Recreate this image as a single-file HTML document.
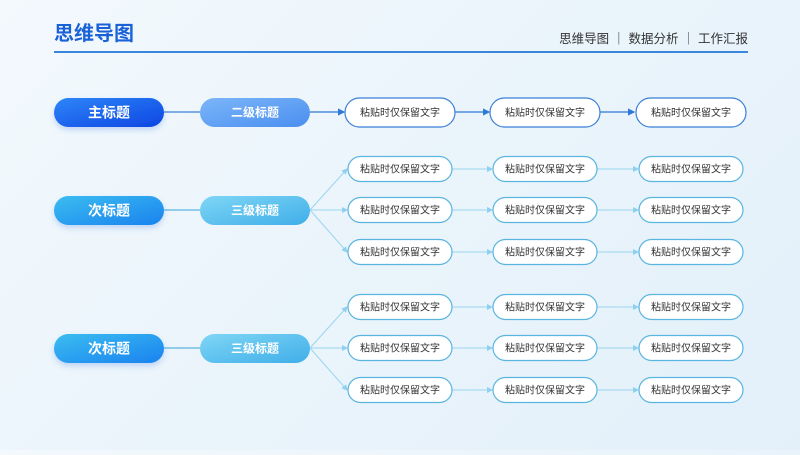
<!DOCTYPE html>
<html><head><meta charset="utf-8"><style>
html,body{margin:0;padding:0;}
body{width:800px;height:450px;overflow:hidden;background:linear-gradient(135deg,#f3f9fd 0%,#eaf4fb 50%,#e3f0fa 100%);font-family:"Liberation Sans","Noto Sans CJK SC",sans-serif;}
svg text{font-family:"Liberation Sans","Noto Sans CJK SC",sans-serif;}
</style></head><body>
<svg width="800" height="450" viewBox="0 0 800 450" xmlns="http://www.w3.org/2000/svg">
<defs>
<linearGradient id="gMain" x1="0" y1="0" x2="1" y2="1"><stop offset="0" stop-color="#2f86f8"/><stop offset="1" stop-color="#0c45e2"/></linearGradient>
<linearGradient id="gL2" x1="0" y1="0" x2="1" y2="1"><stop offset="0" stop-color="#7cb6f9"/><stop offset="1" stop-color="#4a8ef0"/></linearGradient>
<linearGradient id="gSub" x1="0" y1="0" x2="1" y2="1"><stop offset="0" stop-color="#3bbdf0"/><stop offset="1" stop-color="#1a82ef"/></linearGradient>
<linearGradient id="gL3" x1="0" y1="0" x2="1" y2="1"><stop offset="0" stop-color="#7fd6f5"/><stop offset="1" stop-color="#40aee9"/></linearGradient>
<marker id="a1" markerWidth="6" markerHeight="6" refX="5" refY="3" orient="auto"><path d="M0,0 L6,3 L0,6 z" fill="#2f78d8"/></marker>
<marker id="a2" markerWidth="6" markerHeight="6" refX="5" refY="3" orient="auto"><path d="M0,0 L6,3 L0,6 z" fill="#8fd0ee"/></marker>
<filter id="sh" x="-20%" y="-30%" width="140%" height="180%"><feDropShadow dx="0" dy="3" stdDeviation="3" flood-color="#2a6fe0" flood-opacity="0.25"/></filter>
</defs>
<text x="54" y="40" font-size="20" font-weight="bold" fill="#1a62d8">思维导图</text>
<text x="748" y="43" font-size="12.5" fill="#333" text-anchor="end">思维导图 ｜ 数据分析 ｜ 工作汇报</text>
<rect x="54" y="51" width="694" height="2" fill="#3a86dc"/>

<line x1="164" y1="112" x2="200" y2="112" stroke="#3a7fd8" stroke-width="1.2"/>
<line x1="310" y1="112" x2="344" y2="112" stroke="#2f78d8" stroke-width="1.2" marker-end="url(#a1)"/>
<line x1="455" y1="112" x2="489" y2="112" stroke="#2f78d8" stroke-width="1.2" marker-end="url(#a1)"/>
<line x1="600" y1="112" x2="634" y2="112" stroke="#2f78d8" stroke-width="1.2" marker-end="url(#a1)"/>
<rect x="54" y="98" width="110" height="29" rx="14.5" fill="url(#gMain)" filter="url(#sh)"/>
<text x="109" y="117.5" font-size="14" font-weight="bold" fill="#fff" text-anchor="middle">主标题</text>
<rect x="200" y="98" width="110" height="29" rx="14.5" fill="url(#gL2)"/>
<text x="255" y="116.5" font-size="12" font-weight="bold" fill="#fff" text-anchor="middle">二级标题</text>
<g fill="#fff" stroke="#3a7fd8" stroke-width="1.2">
<rect x="345" y="98" width="110" height="29" rx="14.5"/>
<rect x="490" y="98" width="110" height="29" rx="14.5"/>
<rect x="636" y="98" width="110" height="29" rx="14.5"/>
</g>
<g font-size="10" fill="#333" text-anchor="middle">
<text x="400" y="116">粘贴时仅保留文字</text>
<text x="545" y="116">粘贴时仅保留文字</text>
<text x="691" y="116">粘贴时仅保留文字</text>
</g>

<g id="r2">
<line x1="164" y1="210" x2="200" y2="210" stroke="#5ab5e0" stroke-width="1.2"/>
<g stroke="#9ad6f0" stroke-width="1" fill="none">
<line x1="310" y1="210" x2="347" y2="169" marker-end="url(#a2)"/>
<line x1="310" y1="210" x2="347" y2="210" marker-end="url(#a2)"/>
<line x1="310" y1="210" x2="347" y2="252" marker-end="url(#a2)"/>
<line x1="452" y1="169" x2="492" y2="169" marker-end="url(#a2)"/>
<line x1="452" y1="210" x2="492" y2="210" marker-end="url(#a2)"/>
<line x1="452" y1="252" x2="492" y2="252" marker-end="url(#a2)"/>
<line x1="597" y1="169" x2="638" y2="169" marker-end="url(#a2)"/>
<line x1="597" y1="210" x2="638" y2="210" marker-end="url(#a2)"/>
<line x1="597" y1="252" x2="638" y2="252" marker-end="url(#a2)"/>
</g>
<rect x="54" y="196" width="110" height="29" rx="14.5" fill="url(#gSub)" filter="url(#sh)"/>
<text x="109" y="215.5" font-size="14" font-weight="bold" fill="#fff" text-anchor="middle">次标题</text>
<rect x="200" y="196" width="110" height="29" rx="14.5" fill="url(#gL3)"/>
<text x="255" y="214.5" font-size="12" font-weight="bold" fill="#fff" text-anchor="middle">三级标题</text>
<g fill="#fff" stroke="#5ab5e0" stroke-width="1.2">
<rect x="348" y="156.5" width="104" height="25" rx="12.5"/>
<rect x="348" y="197.5" width="104" height="25" rx="12.5"/>
<rect x="348" y="239.5" width="104" height="25" rx="12.5"/>
<rect x="493" y="156.5" width="104" height="25" rx="12.5"/>
<rect x="493" y="197.5" width="104" height="25" rx="12.5"/>
<rect x="493" y="239.5" width="104" height="25" rx="12.5"/>
<rect x="639" y="156.5" width="104" height="25" rx="12.5"/>
<rect x="639" y="197.5" width="104" height="25" rx="12.5"/>
<rect x="639" y="239.5" width="104" height="25" rx="12.5"/>
</g>
<g font-size="10" fill="#333" text-anchor="middle">
<text x="400" y="172.5">粘贴时仅保留文字</text><text x="400" y="213.5">粘贴时仅保留文字</text><text x="400" y="255.5">粘贴时仅保留文字</text>
<text x="545" y="172.5">粘贴时仅保留文字</text><text x="545" y="213.5">粘贴时仅保留文字</text><text x="545" y="255.5">粘贴时仅保留文字</text>
<text x="691" y="172.5">粘贴时仅保留文字</text><text x="691" y="213.5">粘贴时仅保留文字</text><text x="691" y="255.5">粘贴时仅保留文字</text>
</g>
</g>
<use href="#r2" transform="translate(0,138)"/>
</svg>
</body></html>
